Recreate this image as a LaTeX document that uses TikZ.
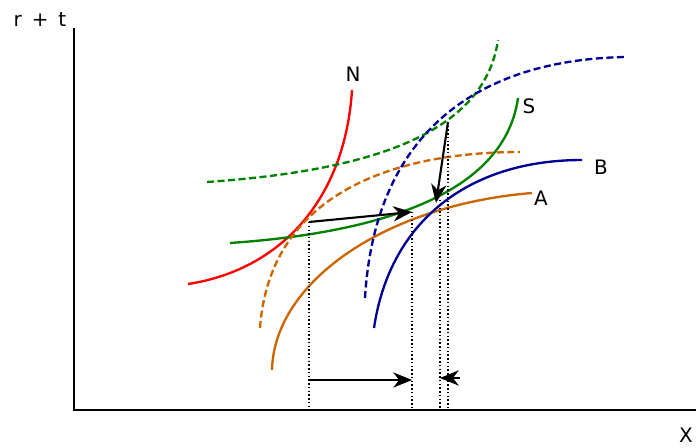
\documentclass[tikz,border=0pt]{standalone}
\usepackage{fontspec}
\setmainfont{DejaVu Sans}
\usepackage{tikz}
\usetikzlibrary{arrows.meta}
\definecolor{nred}{RGB}{255,0,0}
\definecolor{sgreen}{RGB}{0,130,0}
\definecolor{aorange}{RGB}{204,102,0}
\definecolor{bblue}{RGB}{0,0,150}
\begin{document}
\begin{tikzpicture}[x=0.03cm,y=-0.03cm,font=\fontsize{17}{20}\selectfont]
  \tikzstyle{curve}=[line width=2pt]
  \tikzstyle{shifted}=[curve,dash pattern=on 6pt off 3pt]
  \tikzstyle{guide}=[dotted,line width=1.2pt]
  \tikzstyle{move}=[line width=1.8pt,-{Stealth[length=16pt,width=13pt,inset=5pt]}]
  \useasboundingbox (0,0) rectangle (696,448);
  % axes
  \coordinate (o) at (74,410);
  \coordinate (ytop) at (74,28);
  \coordinate (xend) at (696,410);
  \draw[line width=2pt] (ytop) -- (o) -- (xend);
  \node (yl) at (40,20) {r\enspace+\enspace t};
  \node (xl) at (686,435) {X};
  % equilibrium points
  \coordinate (e0) at (309,222);
  \coordinate (e1) at (412,212);
  \coordinate (e2) at (436,203);
  \coordinate (e3) at (448,122);
  % curves
  \draw[curve,nred] (188,284) .. controls (280,270) and (345,200) .. (352,90);
  \node (nl) at (353,74) {N};
  \draw[curve,sgreen] (230,243) .. controls (390,232) and (505,190) .. (518,98);
  \node (sl) at (529,106) {S};
  \draw[shifted,sgreen] (207,182) .. controls (380,170) and (485,130) .. (498,40);
  \draw[curve,aorange] (272,370) .. controls (274,282) and (385,205) .. (532,193);
  \node (al) at (541,198) {A};
  \draw[shifted,aorange] (260,328) .. controls (270,190) and (400,152) .. (520,152);
  \draw[curve,bblue] (374,328) .. controls (390,220) and (470,160) .. (582,160);
  \node (bl) at (601,167) {B};
  \draw[shifted,bblue] (365,298) .. controls (375,130) and (480,60) .. (625,57);
  % shifts
  \draw[move] (e0) -- (e1);
  \draw[move] (e3) -- (e2);
  % projections
  \draw[guide] (e0) -- (e0 |- o);
  \draw[guide] (e1) -- (e1 |- o);
  \draw[guide] (440,200) -- (440,410);
  \draw[guide] (e3) -- (e3 |- o);
  \coordinate (b0) at (310,380);
  \coordinate (b1) at (412,380);
  \coordinate (c0) at (460,378);
  \coordinate (c1) at (440,378);
  \draw[move] (b0) -- (b1);
  \draw[move] (c0) -- (c1);
\end{tikzpicture}
\end{document}
